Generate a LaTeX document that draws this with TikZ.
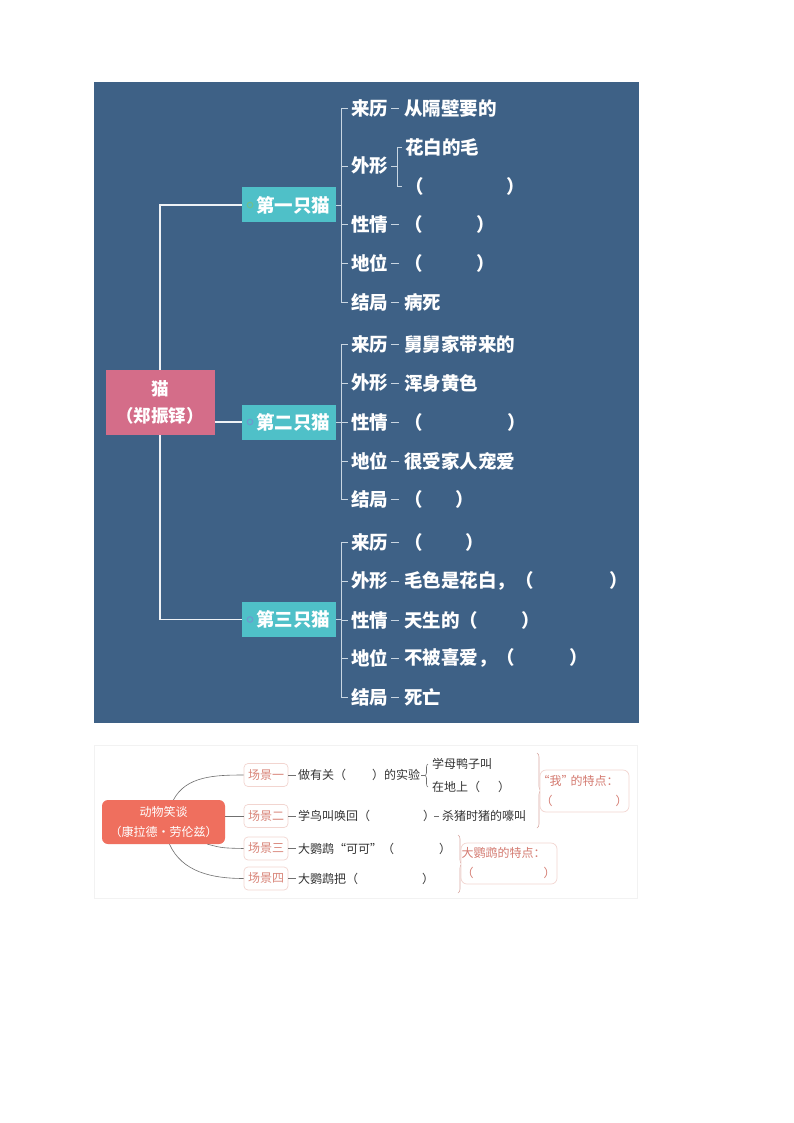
\documentclass[tikz,border=0pt]{standalone}
\usepackage{fontspec}
\newfontfamily\cjk{Noto Sans CJK SC}
\usetikzlibrary{decorations.pathreplacing,calc}
\definecolor{bgblue}{HTML}{3E6186}
\definecolor{catteal}{HTML}{4FC0C8}
\definecolor{rootpink}{HTML}{D46D89}
\definecolor{brk}{HTML}{C9D6E2}
\definecolor{trunkc}{HTML}{EEF2F6}
\definecolor{salmon}{HTML}{EF6F5E}
\definecolor{scborder}{HTML}{F2D5D0}
\definecolor{sctext}{HTML}{D98579}
\definecolor{boxtext}{HTML}{D47A70}
\definecolor{dark}{HTML}{333333}
\definecolor{curvec}{HTML}{707070}
\definecolor{bracec}{HTML}{D9A9A3}
\definecolor{dotg}{HTML}{6FBF8E}
\definecolor{dotb}{HTML}{6E98CF}
\begin{document}
\begin{tikzpicture}[x=1pt,y=-1pt,
  lbl/.style={font=\cjk\bfseries\fontsize{18.5}{20}\selectfont, text=white, inner sep=0pt, anchor=west},
  catbox/.style={fill=catteal, minimum width=94pt, minimum height=35pt, inner sep=0pt, font=\cjk\bfseries\fontsize{18.5}{20}\selectfont, text=white},
  rootbox/.style={fill=rootpink, minimum width=109pt, minimum height=65pt, inner sep=0pt, align=center, font=\cjk\bfseries\fontsize{17.5}{27}\selectfont, text=white},
  brline/.style={draw=brk, line width=0.8pt},
  trunk/.style={draw=trunkc, line width=1.1pt},
  dotmark/.style={line width=1pt},
  sc/.style={draw=scborder, fill=white, rounded corners=4pt, line width=0.7pt, font=\cjk\fontsize{12}{14}\selectfont, text=sctext, minimum width=44pt, minimum height=23pt, inner sep=1pt},
  txt/.style={font=\cjk\fontsize{12}{14}\selectfont, text=dark, inner sep=0pt, anchor=west},
  dk/.style={draw=curvec, line width=0.6pt},
  cv/.style={draw=curvec, line width=0.6pt},
  bracelook/.style={draw=bracec, line width=0.6pt, decorate, decoration={brace, amplitude=4pt}},
  featbox/.style={draw=scborder, fill=white, rounded corners=6pt, line width=0.7pt, font=\cjk\fontsize{12}{20}\selectfont, text=boxtext, align=left, inner xsep=0.5pt, inner ysep=1pt}
]
\useasboundingbox (0,0) rectangle (794,1123);
\fill[white] (0,0) rectangle (794,1123);
% ===== top panel =====
\fill[bgblue] (94,82) rectangle (639,723);

\node[rootbox] (root) at (160,402.5) {猫\\（郑振铎）};
\node[catbox] (c1) at (289,205) {\hspace{8pt}第一只猫};
\node[catbox] (c2) at (289,422) {\hspace{8pt}第二只猫};
\node[catbox] (c3) at (289,619.5) {\hspace{8pt}第三只猫};
\draw[trunk] (c1.west) -| (root.north);
\draw[trunk] (c3.west) -| (root.south);
\draw[trunk] (root.east |- c2.west) -- (c2.west);
\draw[dotmark, draw=dotg] (250,205) circle (2.8);
\draw[dotmark, draw=dotb] (250,422) circle (2.8);
\draw[dotmark, draw=dotb] (250,619.5) circle (2.8);

% --- first cat ---
\node[lbl] (k1a) at (351,108) {来历};
\node[lbl] (k1b) at (351,166) {外形};
\node[lbl] (k1c) at (351,224) {性情};
\node[lbl] (k1d) at (351,263) {地位};
\node[lbl] (k1e) at (351,302) {结局};
\node[lbl] (v1a) at (404,108) {从隔壁要的};
\node[lbl] (s1a) at (405,147) {花白的毛};
\node[lbl] (s1b) at (405,186) {（\hspace{83pt}）};
\node[lbl] (v1c) at (404,224) {（\hspace{53.5pt}）};
\node[lbl] (v1d) at (404,263) {（\hspace{53.5pt}）};
\node[lbl] (v1e) at (404,302) {病死};
\draw[brline] ([xshift=-3pt]k1a.west) -- ([xshift=-10pt]k1a.west) -- ([xshift=-10pt]k1e.west) -- ([xshift=-3pt]k1e.west);
\foreach \k in {k1b,k1c,k1d} \draw[brline] ([xshift=-10pt]\k.west) -- ([xshift=-3pt]\k.west);
\draw[brline] (c1.east) -- ++(5,0);
\draw[brline] ([xshift=3pt]k1a.east) -- ([xshift=-5pt]v1a.west);
\draw[brline] ([xshift=3pt]k1c.east) -- ([xshift=-5pt]v1c.west);
\draw[brline] ([xshift=3pt]k1d.east) -- ([xshift=-5pt]v1d.west);
\draw[brline] ([xshift=3pt]k1e.east) -- ([xshift=-5pt]v1e.west);
\draw[brline] ([xshift=3pt]k1b.east) -- ([xshift=-8pt]s1a.west |- k1b.east);
\draw[brline] ([xshift=-3pt]s1a.west) -- ([xshift=-8pt]s1a.west) -- ([xshift=-8pt]s1b.west) -- ([xshift=-3pt]s1b.west);

% --- second cat ---
\node[lbl] (k2a) at (351,344) {来历};
\node[lbl] (k2b) at (351,383) {外形};
\node[lbl] (k2c) at (351,422) {性情};
\node[lbl] (k2d) at (351,461) {地位};
\node[lbl] (k2e) at (351,499) {结局};
\node[lbl] (v2a) at (404,344) {舅舅家带来的};
\node[lbl] (v2b) at (404,383) {浑身黄色};
\node[lbl] (v2c) at (404,422) {（\hspace{84.5pt}）};
\node[lbl] (v2d) at (404,461) {很受家人宠爱};
\node[lbl] (v2e) at (404,499) {（\hspace{32.5pt}）};
\draw[brline] ([xshift=-3pt]k2a.west) -- ([xshift=-10pt]k2a.west) -- ([xshift=-10pt]k2e.west) -- ([xshift=-3pt]k2e.west);
\foreach \k in {k2b,k2c,k2d} \draw[brline] ([xshift=-10pt]\k.west) -- ([xshift=-3pt]\k.west);
\draw[brline] (c2.east) -- ++(5,0);
\foreach \n in {a,b,c,d,e} \draw[brline] ([xshift=3pt]k2\n.east) -- ([xshift=-5pt]v2\n.west);

% --- third cat ---
\node[lbl] (k3a) at (351,542) {来历};
\node[lbl] (k3b) at (351,581) {外形};
\node[lbl] (k3c) at (351,620) {性情};
\node[lbl] (k3d) at (351,658) {地位};
\node[lbl] (k3e) at (351,697) {结局};
\node[lbl] (v3a) at (404,542) {（\hspace{42.5pt}）};
\node[lbl] (v3b) at (404,581) {毛色是花白，（\hspace{75.5pt}）};
\node[lbl] (v3c) at (404,620) {天生的（\hspace{43pt}）};
\node[lbl] (v3d) at (404,658) {不被喜爱，（\hspace{54pt}）};
\node[lbl] (v3e) at (404,697) {死亡};
\draw[brline] ([xshift=-3pt]k3a.west) -- ([xshift=-10pt]k3a.west) -- ([xshift=-10pt]k3e.west) -- ([xshift=-3pt]k3e.west);
\foreach \k in {k3b,k3c,k3d} \draw[brline] ([xshift=-10pt]\k.west) -- ([xshift=-3pt]\k.west);
\draw[brline] (c3.east) -- ++(5,0);
\foreach \n in {a,b,c,d,e} \draw[brline] ([xshift=3pt]k3\n.east) -- ([xshift=-5pt]v3\n.west);

% ===== bottom panel =====
\draw[draw=black!5, line width=0.6pt] (94,745) rectangle (637,898);
\node[fill=salmon, rounded corners=6pt, minimum width=123pt, minimum height=44pt, inner sep=0pt, align=center, font=\cjk\fontsize{12}{20}\selectfont, text=white] (r2) at (163.5,822) {动物笑谈\\（康拉德・劳伦兹）};
\node[sc] (sc1) at (266,775) {场景一};
\node[sc] (sc2) at (266,816) {场景二};
\node[sc] (sc3) at (266,848.5) {场景三};
\node[sc] (sc4) at (266,878.5) {场景四};
\draw[cv] ([xshift=10pt]r2.north) .. controls (186,776) and (215,775) .. (sc1.west);
\draw[cv] (r2.east |- sc2.west) -- (sc2.west);
\draw[cv] ([xshift=44pt]r2.south) .. controls (222,848) .. (sc3.west);
\draw[cv] ([xshift=6pt]r2.south) .. controls (182,872) and (212,878.5) .. (sc4.west);

\node[txt] (t1) at (298,775) {做有关（\hspace{26pt}）的实验};
\node[txt] (u1) at (432,764) {学母鸭子叫};
\node[txt] (u2) at (432,787) {在地上（\hspace{18pt}）};
\node[txt] (t2) at (298,816) {学鸟叫唤回（\hspace{53pt}）};
\node[txt] (w2) at (442,816) {杀猪时猪的嚎叫};
\node[txt] (t3) at (298,848.5) {大鹦鹉\makebox[12pt][r]{“}可可\makebox[12pt][l]{”}（\hspace{45pt}）};
\node[txt] (t4) at (298,878.5) {大鹦鹉把（\hspace{64pt}）};
\draw[dk] (sc1.east) -- ([xshift=-2pt]t1.west);
\draw[dk] (sc2.east) -- ([xshift=-2pt]t2.west);
\draw[dk] (sc3.east) -- ([xshift=-2pt]t3.west);
\draw[dk] (sc4.east) -- ([xshift=-2pt]t4.west);
\draw[dk] ([xshift=-1pt]t2.east) -- ([xshift=-3pt]w2.west);
\draw[dk] ([xshift=1pt]t1.east) -- ([xshift=-7pt]u1.west |- t1.east);
\draw[dk, decorate, decoration={brace, amplitude=3pt}] ([xshift=-4pt]u2.west) -- ([xshift=-4pt]u1.west);

\draw[bracelook] (537,753) -- (537,828);
\node[featbox, text width=88pt, minimum height=42pt] (fa) at (584.5,791) {\makebox[9pt][r]{“}我\makebox[9pt][l]{”}的特点：\\（\hspace{63pt}）};
\draw[bracelook] (458,835) -- (458,893);
\node[featbox, text width=95pt, minimum height=41pt] (fb) at (509,863.5) {大鹦鹉的特点：\\（\hspace{70pt}）};
\end{tikzpicture}
\end{document}
